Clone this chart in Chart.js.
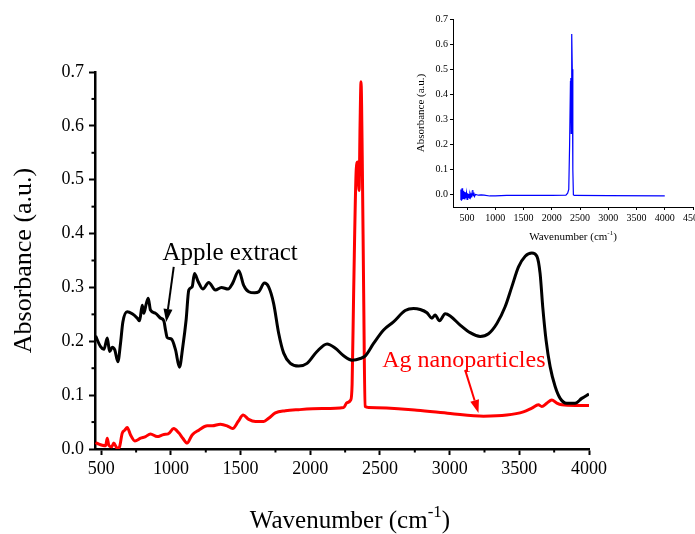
<!DOCTYPE html>
<html>
<head>
<meta charset="utf-8">
<title>FTIR spectra</title>
<script src="https://cdn.jsdelivr.net/npm/chart.js@4.4.0/dist/chart.umd.min.js"></script>
<style>
  html, body { margin: 0; padding: 0; background: #fff; overflow: hidden; }
  #wrap { position: relative; width: 695px; height: 534px; overflow: hidden; }
  #mainChart { position: absolute; left: 0; top: 0; }
  #insetChart { position: absolute; left: 400px; top: 0; }
</style>
</head>
<body>
<div id="wrap">
  <canvas id="mainChart" width="695" height="534"></canvas>
  <canvas id="insetChart" width="320" height="250"></canvas>
</div>
<script>
// Apple extract (black)
const appleX = [459, 495, 519, 543, 560, 579, 597, 619, 638, 655, 686, 722, 758, 775, 794, 805, 823, 837, 853, 889,
  925, 949, 961, 973, 1004, 1033, 1061, 1085, 1109, 1128, 1152, 1169, 1195, 1229, 1271, 1319, 1362, 1410, 1443, 1487,
  1522, 1558, 1601, 1630, 1671, 1701, 1737, 1773, 1809, 1857, 1917, 1977, 2048, 2120, 2180, 2239, 2299, 2359, 2395, 2454,
  2526, 2597, 2681, 2741, 2789, 2837, 2873, 2896, 2927, 2968, 3004, 3076, 3147, 3219, 3279, 3339, 3398, 3446, 3494, 3542,
  3590, 3626, 3649, 3668, 3692, 3721, 3757, 3793, 3840, 3900, 3948, 4000];
const appleY = [0.210, 0.190, 0.185, 0.206, 0.181, 0.189, 0.184, 0.162, 0.196, 0.236, 0.255, 0.251, 0.243, 0.238, 0.267, 0.252, 0.270, 0.280, 0.258, 0.252,
  0.243, 0.238, 0.221, 0.207, 0.204, 0.184, 0.152, 0.190, 0.240, 0.295, 0.301, 0.326, 0.311, 0.297, 0.309, 0.295, 0.300, 0.297, 0.308, 0.331,
  0.304, 0.292, 0.290, 0.292, 0.308, 0.301, 0.270, 0.215, 0.178, 0.159, 0.154, 0.159, 0.181, 0.195, 0.187, 0.173, 0.165, 0.168, 0.173, 0.196,
  0.221, 0.236, 0.257, 0.261, 0.259, 0.253, 0.243, 0.249, 0.238, 0.251, 0.247, 0.230, 0.216, 0.209, 0.214, 0.233, 0.264, 0.301, 0.338, 0.358,
  0.364, 0.358, 0.326, 0.264, 0.202, 0.153, 0.116, 0.094, 0.085, 0.085, 0.094, 0.102];

// Ag nanoparticles (red)
const agX = [459, 483, 507, 531, 543, 554, 574, 590, 615, 631, 650, 669, 686, 710, 741, 782, 818, 853, 901, 949,
  980, 1020, 1056, 1085, 1116, 1152, 1200, 1260, 1296, 1355, 1403, 1443, 1482, 1518, 1558, 1606, 1666, 1701, 1749, 1821,
  1917, 2084, 2239, 2263, 2290, 2300, 2311, 2330, 2340, 2350, 2357, 2364, 2373, 2383, 2393, 2418, 2765, 3004, 3243, 3410,
  3529, 3590, 3637, 3661, 3697, 3733, 3769, 3805, 3900, 4000];
const agY = [0.012, 0.009, 0.007, 0.006, 0.020, 0.007, 0.004, 0.011, 0.001, 0.004, 0.029, 0.035, 0.040, 0.026, 0.015, 0.020, 0.023, 0.028, 0.023, 0.027,
  0.028, 0.038, 0.030, 0.020, 0.011, 0.026, 0.035, 0.043, 0.043, 0.046, 0.043, 0.038, 0.051, 0.063, 0.055, 0.051, 0.051, 0.057, 0.067, 0.071,
  0.073, 0.075, 0.077, 0.086, 0.091, 0.120, 0.289, 0.520, 0.533, 0.480, 0.600, 0.682, 0.537, 0.289, 0.079, 0.077, 0.072, 0.066, 0.061, 0.063,
  0.069, 0.076, 0.082, 0.079, 0.085, 0.091, 0.085, 0.082, 0.081, 0.081];

// inset spectrum (blue)
const insetX = [380, 390, 400, 410, 420, 430, 440, 450, 460, 470, 480, 490, 500, 510, 520, 530, 540, 550, 560, 570,
  580, 590, 600, 610, 620, 630, 650, 700, 750, 800, 900, 1000, 1100, 1200, 1500, 2000, 2250, 2280, 2300, 2315,
  2330, 2337, 2343, 2349, 2356, 2362, 2372, 2382, 2400, 3000, 4000];
const insetY = [-0.020, 0.020, -0.025, 0.025, -0.020, 0.015, -0.018, 0.010, -0.020, 0.008, -0.015, 0.005, -0.020, 0.005, -0.012, 0.002, -0.015, 0.000, -0.010, 0.003,
  -0.012, 0.002, 0.018, -0.005, 0.008, -0.008, 0.000, -0.003, -0.002, -0.003, -0.006, -0.006, -0.005, -0.004, -0.004, -0.004, -0.003, 0.005, 0.020, 0.200,
  0.450, 0.465, 0.244, 0.400, 0.640, 0.500, 0.100, -0.002, -0.004, -0.005, -0.006];

// ticks
const mainXTicks = [500, 1000, 1500, 2000, 2500, 3000, 3500, 4000];
const mainXMinor = [750, 1250, 1750, 2250, 2750, 3250, 3750];
const mainYTicks = [0, 0.1, 0.2, 0.3, 0.4, 0.5, 0.6, 0.7];
const mainYMinor = [0.05, 0.15, 0.25, 0.35, 0.45, 0.55, 0.65];
const insetXTicks = [500, 1000, 1500, 2000, 2500, 3000, 3500, 4000, 4500];
const insetYTicks = [0, 0.1, 0.2, 0.3, 0.4, 0.5, 0.6, 0.7];

const serif = "'Liberation Serif', 'Times New Roman', serif";
Chart.defaults.font.family = serif;
Chart.defaults.color = '#000';

function toPoints(xs, ys) {
  return xs.map((x, i) => ({ x: x, y: ys[i] }));
}

function setTicks(list) {
  return scale => { scale.ticks = list.map(v => ({ value: v })); };
}

// small outward ticks between the labelled ones
const minorTicks = {
  id: 'minorTicks',
  afterDraw(chart, args, opts) {
    if (!opts.xMinor) return;
    const { ctx, scales: { x, y } } = chart;
    ctx.save();
    ctx.strokeStyle = '#000';
    ctx.lineWidth = opts.width;
    opts.xMinor.forEach(v => {
      const px = x.getPixelForValue(v);
      ctx.beginPath();
      ctx.moveTo(px, x.top);
      ctx.lineTo(px, x.top + opts.len);
      ctx.stroke();
    });
    opts.yMinor.forEach(v => {
      const py = y.getPixelForValue(v);
      ctx.beginPath();
      ctx.moveTo(y.right, py);
      ctx.lineTo(y.right - opts.len, py);
      ctx.stroke();
    });
    ctx.restore();
  }
};

// x axis title with a raised "-1"
const xTitle = {
  id: 'xTitle',
  afterDraw(chart, args, opts) {
    if (!opts.size) return;
    const { ctx, chartArea } = chart;
    const main = opts.size + 'px ' + serif;
    const sup = Math.round(opts.size * 0.68) + 'px ' + serif;
    ctx.save();
    ctx.fillStyle = '#000';
    ctx.textBaseline = 'alphabetic';
    ctx.font = main;
    const w1 = ctx.measureText('Wavenumber (cm').width;
    const w3 = ctx.measureText(')').width;
    ctx.font = sup;
    const w2 = ctx.measureText('-1').width;
    let x = (chartArea.left + chartArea.right) / 2 + opts.shift - (w1 + w2 + w3) / 2;
    ctx.font = main;
    ctx.textAlign = 'left';
    ctx.fillText('Wavenumber (cm', x, opts.y);
    x += w1;
    ctx.font = sup;
    ctx.fillText('-1', x, opts.y - opts.size * 0.45);
    x += w2;
    ctx.font = main;
    ctx.fillText(')', x, opts.y);
    ctx.restore();
  }
};

// curve labels with arrows
const curveLabels = {
  id: 'curveLabels',
  afterDraw(chart, args, opts) {
    if (!opts.items) return;
    const { ctx, scales: { x, y } } = chart;
    ctx.save();
    opts.items.forEach(it => {
      ctx.fillStyle = it.color;
      ctx.strokeStyle = it.color;
      ctx.font = it.size + 'px ' + serif;
      ctx.textAlign = 'left';
      ctx.textBaseline = 'alphabetic';
      ctx.fillText(it.text, x.getPixelForValue(it.at[0]), y.getPixelForValue(it.at[1]));

      const x1 = x.getPixelForValue(it.from[0]), y1 = y.getPixelForValue(it.from[1]);
      const x2 = x.getPixelForValue(it.to[0]), y2 = y.getPixelForValue(it.to[1]);
      const ang = Math.atan2(y2 - y1, x2 - x1);
      const headLen = 13, headW = 4.5;
      const bx = x2 - headLen * Math.cos(ang), by = y2 - headLen * Math.sin(ang);
      ctx.lineWidth = 2;
      ctx.beginPath();
      ctx.moveTo(x1, y1);
      ctx.lineTo(bx, by);
      ctx.stroke();
      ctx.beginPath();
      ctx.moveTo(x2, y2);
      ctx.lineTo(bx + headW * Math.sin(ang), by - headW * Math.cos(ang));
      ctx.lineTo(bx - headW * Math.sin(ang), by + headW * Math.cos(ang));
      ctx.closePath();
      ctx.fill();
    });
    ctx.restore();
  }
};

new Chart(document.getElementById('mainChart'), {
  type: 'line',
  data: {
    datasets: [
      {
        label: 'Apple extract',
        data: toPoints(appleX, appleY),
        borderColor: '#000000',
        borderWidth: 3,
        pointRadius: 0,
        cubicInterpolationMode: 'monotone'
      },
      {
        label: 'Ag nanoparticles',
        data: toPoints(agX, agY),
        borderColor: '#ff0000',
        borderWidth: 3,
        pointRadius: 0,
        cubicInterpolationMode: 'monotone'
      }
    ]
  },
  options: {
    responsive: false,
    animation: false,
    layout: { padding: { top: 72, right: 106, left: 0, bottom: 0 } },
    plugins: {
      legend: { display: false },
      tooltip: { enabled: false },
      minorTicks: { xMinor: mainXMinor, yMinor: mainYMinor, len: 3.5, width: 2 },
      xTitle: { size: 25, y: 528, shift: 8 },
      curveLabels: {
        items: [
          { text: 'Apple extract', color: '#000000', size: 25, at: [939, 0.351], from: [1020, 0.338], to: [966, 0.236] },
          { text: 'Ag nanoparticles', color: '#ff0000', size: 24, at: [2516, 0.153], from: [3111, 0.147], to: [3207, 0.067] }
        ]
      }
    },
    scales: {
      x: {
        type: 'linear',
        min: 455,
        max: 4000,
        afterBuildTicks: setTicks(mainXTicks),
        afterFit: s => { s.height = 85; },
        grid: { drawOnChartArea: false, tickLength: 6, tickColor: '#000', tickWidth: 2 },
        border: { color: '#000', width: 2.5 },
        ticks: { font: { size: 18 }, padding: 3, maxRotation: 0, autoSkip: false, callback: v => String(v) }
      },
      y: {
        min: 0,
        max: 0.7,
        afterBuildTicks: setTicks(mainYTicks),
        afterFit: s => { s.width = 95; },
        grid: { drawOnChartArea: false, tickLength: 6, tickColor: '#000', tickWidth: 2 },
        border: { color: '#000', width: 2.5 },
        ticks: { font: { size: 18 }, padding: 5, callback: v => v.toFixed(1) },
        title: { display: true, text: 'Absorbance (a.u.)', font: { size: 26 }, padding: { top: 9, bottom: 0 } }
      }
    }
  },
  plugins: [minorTicks, xTitle, curveLabels]
});

new Chart(document.getElementById('insetChart'), {
  type: 'line',
  data: {
    datasets: [{
      label: 'inset',
      data: toPoints(insetX, insetY),
      borderColor: '#0000ff',
      borderWidth: 1.2,
      pointRadius: 0,
      tension: 0
    }]
  },
  options: {
    responsive: false,
    animation: false,
    layout: { padding: { top: 19, right: 27, left: 0, bottom: 0 } },
    plugins: {
      legend: { display: false },
      tooltip: { enabled: false },
      xTitle: { size: 11, y: 240, shift: 0 }
    },
    scales: {
      x: {
        type: 'linear',
        min: 250,
        max: 4500,
        afterBuildTicks: setTicks(insetXTicks),
        afterFit: s => { s.height = 43; },
        grid: { drawOnChartArea: false, tickLength: 3, tickColor: '#000', tickWidth: 1 },
        border: { color: '#000', width: 1 },
        ticks: { font: { size: 10 }, padding: 2, maxRotation: 0, autoSkip: false, callback: v => String(v) }
      },
      y: {
        min: -0.05,
        max: 0.7,
        afterBuildTicks: setTicks(insetYTicks),
        afterFit: s => { s.width = 53; },
        grid: { drawOnChartArea: false, tickLength: 3, tickColor: '#000', tickWidth: 1 },
        border: { color: '#000', width: 1 },
        ticks: { font: { size: 10 }, padding: 2, callback: v => v.toFixed(1) },
        title: { display: true, text: 'Absorbance (a.u.)', font: { size: 11 }, padding: { top: 15, bottom: 0 } }
      }
    }
  },
  plugins: [xTitle]
});
</script>
</body>
</html>
